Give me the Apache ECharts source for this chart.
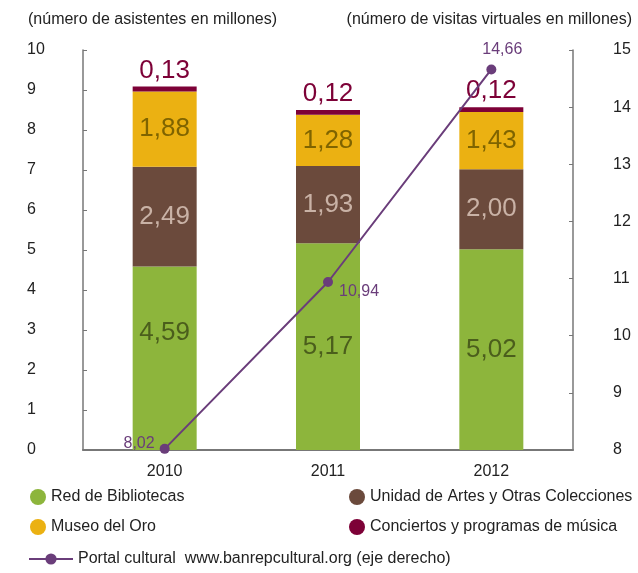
<!DOCTYPE html>
<html>
<head>
<meta charset="utf-8">
<script src="https://cdn.jsdelivr.net/npm/echarts@6/dist/echarts.min.js"></script>
<style>
    html, body { margin: 0; padding: 0; background: #fff; }
    #divChart { width: 638px; height: 573px; }
</style>
</head>
<body>
<div id="divChart"></div>
<script>
    // datos
    var years = ['2010', '2011', '2012'];
    var bibliotecas = [4.59, 5.17, 5.02];
    var artes = [2.49, 1.93, 2.00];
    var museoOro = [1.88, 1.28, 1.43];
    var conciertos = [0.13, 0.12, 0.12];
    var portal = [8.02, 10.94, 14.66];

    var font = 'Liberation Sans, Arial, sans-serif';

    function fmt(v) {
        return v.toFixed(2).replace('.', ',');
    }

    function barSeries(name, data, color, labelColor, pos) {
        return {
            name: name,
            type: 'bar',
            stack: 'total',
            barWidth: 64,
            data: data,
            itemStyle: { color: color },
            label: {
                show: true,
                position: pos,
                distance: 3,
                color: labelColor,
                fontSize: 26,
                fontFamily: font,
                formatter: function (p) { return fmt(p.value); }
            }
        };
    }

    var legendText = { fontSize: 16, color: '#222', fontFamily: font };

    var myChart = echarts.init(document.getElementById('divChart'));
    var greenSeries = barSeries('Red de Bibliotecas', bibliotecas, '#8db53c', '#4b5e1c', 'inside');
    // la etiqueta de 2010 va un poco mas arriba
    greenSeries.data = bibliotecas.map(function (v, i) {
        return i === 0 ? { value: v, label: { offset: [0, -25] } } : v;
    });

    var option = {
        animation: false,
        textStyle: { fontFamily: font },
        title: [
            { text: '(número de asistentes en millones)', left: 28, top: 12, padding: 0,
              textStyle: { fontSize: 16, fontWeight: 'normal', color: '#222', fontFamily: font } },
            { text: '(número de visitas virtuales en millones)', right: 6, top: 12, padding: 0,
              textStyle: { fontSize: 16, fontWeight: 'normal', color: '#222', fontFamily: font } }
        ],
        grid: { left: 83, right: 65, top: 50, bottom: 123 },
        legend: [
            { left: 30, top: 489, padding: 0, icon: 'circle', itemWidth: 16, itemHeight: 16,
              textStyle: legendText, data: ['Red de Bibliotecas'] },
            { left: 349, top: 489, padding: 0, icon: 'circle', itemWidth: 16, itemHeight: 16,
              textStyle: legendText, data: ['Unidad de Artes y Otras Colecciones'] },
            { left: 30, top: 519, padding: 0, icon: 'circle', itemWidth: 16, itemHeight: 16,
              textStyle: legendText, data: ['Museo del Oro'] },
            { left: 349, top: 519, padding: 0, icon: 'circle', itemWidth: 16, itemHeight: 16,
              textStyle: legendText, data: ['Conciertos y programas de música'] },
            { left: 28, top: 551, padding: 0, itemWidth: 44, itemHeight: 14,
              textStyle: legendText,
              data: ['Portal cultural  www.banrepcultural.org (eje derecho)'] }
        ],
        xAxis: {
            type: 'category',
            data: years,
            axisLine: { lineStyle: { color: '#777', width: 2 } },
            axisTick: { inside: true, length: 5, lineStyle: { color: '#777' } },
            axisLabel: { color: '#222', fontSize: 16, margin: 14 }
        },
        yAxis: [
            {
                type: 'value', min: 0, max: 10, interval: 1,
                splitLine: { show: false },
                axisLine: { show: true, lineStyle: { color: '#777', width: 1.5 } },
                axisTick: { show: true, inside: true, length: 4, lineStyle: { color: '#777' } },
                axisLabel: { color: '#222', fontSize: 16, align: 'left', margin: 56, padding: [4, 0, 0, 0] }
            },
            {
                type: 'value', min: 8, max: 15, interval: 1,
                splitLine: { show: false },
                axisLine: { show: true, lineStyle: { color: '#777', width: 1.5 } },
                axisTick: { show: true, inside: true, length: 4, lineStyle: { color: '#777' } },
                axisLabel: { color: '#222', fontSize: 16, align: 'left', margin: 40, padding: [4, 0, 0, 0] }
            }
        ],
        series: [
            greenSeries,
            barSeries('Unidad de Artes y Otras Colecciones', artes, '#6b4a3c', '#c9b2a6', 'inside'),
            barSeries('Museo del Oro', museoOro, '#ebb112', '#7f6400', 'inside'),
            barSeries('Conciertos y programas de música', conciertos, '#7d0137', '#7d0137', 'top'),
            {
                name: 'Portal cultural  www.banrepcultural.org (eje derecho)',
                type: 'line',
                yAxisIndex: 1,
                symbol: 'circle',
                symbolSize: 10,
                lineStyle: { color: '#6a3d7a', width: 2 },
                itemStyle: { color: '#6a3d7a' },
                data: [
                    { value: portal[0], label: { position: 'left', distance: 5, offset: [0, -5] } },
                    { value: portal[1], label: { position: 'right', distance: 6, offset: [0, 10] } },
                    { value: portal[2], label: { position: 'top', distance: 5, offset: [11, -2] } }
                ],
                label: {
                    show: true,
                    color: '#6a3d7a',
                    fontSize: 16,
                    fontFamily: font,
                    formatter: function (p) { return fmt(p.value); }
                },
                z: 5
            }
        ]
    };
    myChart.setOption(option);
</script>
</body>
</html>
